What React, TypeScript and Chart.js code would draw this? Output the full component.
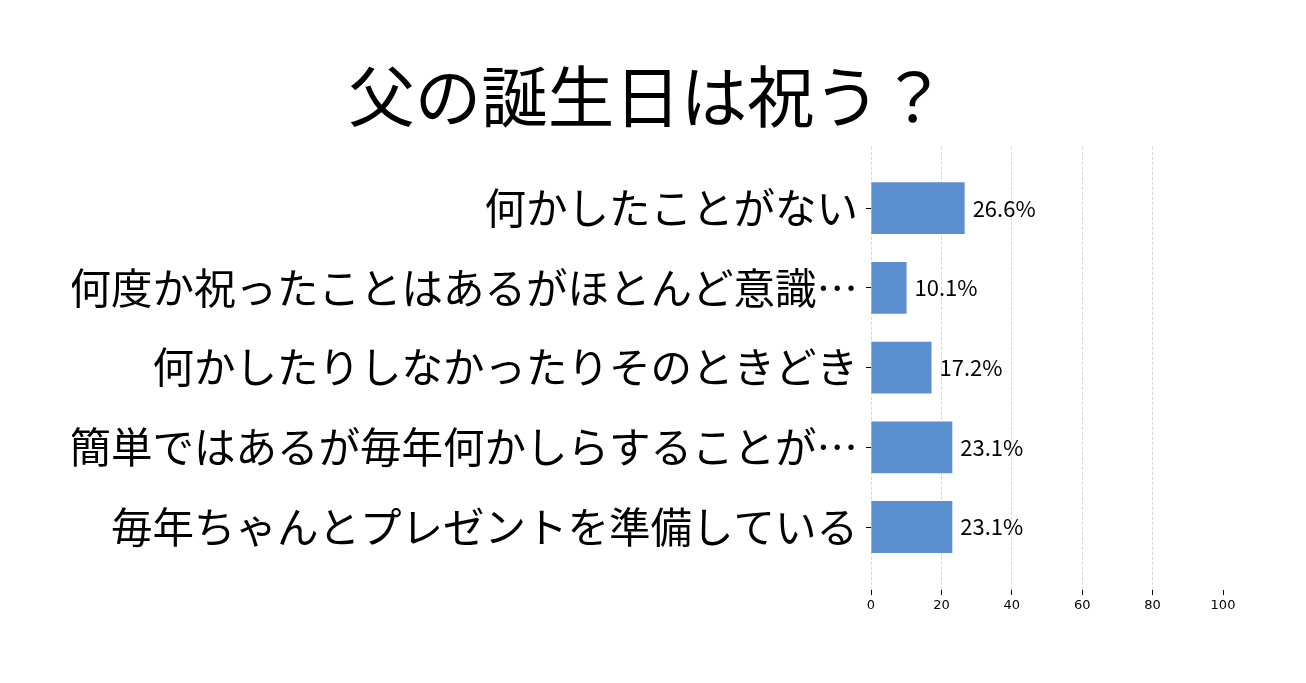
import { useEffect, useRef } from 'react';
import { Chart, registerables } from 'chart.js';

Chart.register(...registerables);

const title = '父の誕生日は祝う？';

const categories = [
  '何かしたことがない',
  '何度か祝ったことはあるがほとんど意識…',
  '何かしたりしなかったりそのときどき',
  '簡単ではあるが毎年何かしらすることが…',
  '毎年ちゃんとプレゼントを準備している',
];

const percents = [26.6, 10.1, 17.2, 23.1, 23.1];

const xTicks = [0, 20, 40, 60, 80, 100];

const JP = '"Noto Sans CJK JP", "Noto Sans", sans-serif';

// draws "26.6%" to the right of each bar
const valueLabels = {
  id: 'valueLabels',
  afterDatasetsDraw(chart: any) {
    const ctx = chart.ctx;
    const meta = chart.getDatasetMeta(0);
    ctx.save();
    ctx.font = `22px ${JP}`;
    ctx.fillStyle = '#000';
    ctx.textAlign = 'left';
    ctx.textBaseline = 'middle';
    meta.data.forEach((bar: any, i: number) => {
      ctx.fillText(`${percents[i].toFixed(1)}%`, bar.x + 8, bar.y);
    });
    ctx.restore();
  },
};

export default function App() {
  const canvasRef = useRef<HTMLCanvasElement>(null);
  const chartRef = useRef<Chart | null>(null);

  useEffect(() => {
    if (!canvasRef.current) return;
    const ctx = canvasRef.current.getContext('2d');
    if (!ctx) return;

    if (chartRef.current) {
      chartRef.current.destroy();
    }

    chartRef.current = new Chart(ctx, {
      type: 'bar',
      data: {
        datasets: [
          {
            label: title,
            data: percents.map((v, i) => ({ x: v, y: i })),
            backgroundColor: '#5b8fd0',
            borderWidth: 0,
            categoryPercentage: 1,
            barPercentage: 0.65,
          },
        ],
      },
      plugins: [valueLabels],
      options: {
        indexAxis: 'y',
        animation: false,
        responsive: true,
        maintainAspectRatio: false,
        layout: {
          padding: { left: 72, right: 83, top: 0, bottom: 63 },
        },
        plugins: {
          legend: { display: false },
          tooltip: { enabled: false },
          title: {
            display: true,
            text: title,
            color: '#000',
            font: { family: JP, size: 66.5, weight: 'normal' },
            padding: { top: 57, bottom: 10 },
          },
        },
        scales: {
          x: {
            type: 'linear',
            min: 0,
            max: 100,
            afterBuildTicks: (axis: any) => {
              axis.ticks = xTicks.map((value) => ({ value }));
            },
            afterFit: (scale: any) => {
              scale.height = 30;
            },
            ticks: {
              color: '#000',
              padding: 3,
              font: { family: '"DejaVu Sans", sans-serif', size: 13 },
            },
            grid: {
              color: (c: any) => (c.tick && c.tick.value === 100 ? 'rgba(0,0,0,0)' : '#cccccc'),
              lineWidth: 0.8,
              tickLength: 5,
              tickColor: '#000',
              tickWidth: 1,
              tickBorderDash: [],
            },
            border: { display: false, dash: [3, 2] },
          },
          y: {
            type: 'linear',
            min: -0.77,
            max: 4.79,
            reverse: true,
            offset: false,
            afterBuildTicks: (axis: any) => {
              axis.ticks = categories.map((_, i) => ({ value: i }));
            },
            afterFit: (scale: any) => {
              scale.width = 799;
            },
            ticks: {
              autoSkip: false,
              color: '#000',
              padding: 8,
              font: { family: JP, size: 41.5 },
              callback: (_v: any, i: number) => categories[i],
            },
            grid: {
              offset: false,
              drawOnChartArea: false,
              tickLength: 5,
              tickColor: '#000',
              tickWidth: 1,
            },
            border: { display: false },
          },
        },
      },
    });

    return () => {
      if (chartRef.current) {
        chartRef.current.destroy();
        chartRef.current = null;
      }
    };
  }, []);

  return (
    <div style={{ position: 'fixed', left: 0, top: 0, width: 1306, height: 683, background: '#fff' }}>
      <canvas ref={canvasRef} />
    </div>
  );
}
